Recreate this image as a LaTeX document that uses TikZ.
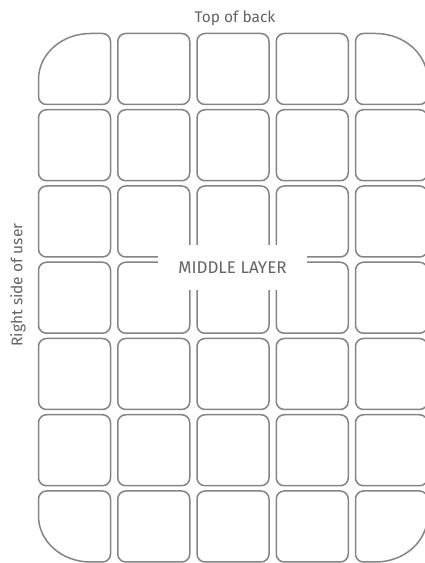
\documentclass[tikz,border=0pt]{standalone}
\usepackage{fontspec}
\setmainfont{Fira Sans}
\definecolor{cellgray}{RGB}{132,132,132}
\definecolor{txtgray}{RGB}{100,100,100}
\newcommand\cellbox[3]{%
 \pgfmathsetmacro\cellX{38.5+79.25*#1}%
 \pgfmathsetmacro\cellT{563-(33.5+76.25*#2)}%
 \def\rAx{8}\def\rAy{8}\def\rBx{8}\def\rBy{8}\def\rCx{8}\def\rCy{8}\def\rDx{8}\def\rDy{8}%
 \ifcase#3\or\def\rAx{52}\def\rAy{46}\or\def\rBx{52}\def\rBy{46}\or\def\rCx{52}\def\rCy{46}\or\def\rDx{52}\def\rDy{46}\fi
 \draw[cell] (\cellX+\rAx,\cellT) -- (\cellX+72-\rBx,\cellT)
   arc[start angle=90,end angle=0,x radius=\rBx,y radius=\rBy]
   -- (\cellX+72,\cellT-71+\rCy)
   arc[start angle=0,end angle=-90,x radius=\rCx,y radius=\rCy]
   -- (\cellX+\rDx,\cellT-71)
   arc[start angle=270,end angle=180,x radius=\rDx,y radius=\rDy]
   -- (\cellX,\cellT-\rAy)
   arc[start angle=180,end angle=90,x radius=\rAx,y radius=\rAy] -- cycle;
}
\begin{document}
\begin{tikzpicture}[x=1pt,y=1pt,
  cell/.style={draw=cellgray,line width=1.5pt},
  lbl/.style={text=txtgray,font=\fontsize{15.5}{18}\selectfont,inner sep=0pt}]
\useasboundingbox (0,0) rectangle (425,563);
\clip (0,0) rectangle (425,563);
\foreach \c in {0,...,4}{
  \foreach \r in {0,...,6}{
    \pgfmathtruncatemacro\kind{(\c==0 && \r==0) ? 1 : ((\c==4 && \r==0) ? 2 : ((\c==4 && \r==6) ? 3 : ((\c==0 && \r==6) ? 4 : 0)))}
    \cellbox{\c}{\r}{\kind}
  }
}
\node[lbl,fill=white,minimum width=149pt,minimum height=45pt,font=\fontsize{17}{20}\selectfont] (mid) at (232.5,563-267.5) {MIDDLE LAYER};
\node[lbl] (top) at (235,563-18) {Top of back};
\node[lbl,rotate=90] (side) at (18,563-285) {Right side of user};
\end{tikzpicture}
\end{document}
